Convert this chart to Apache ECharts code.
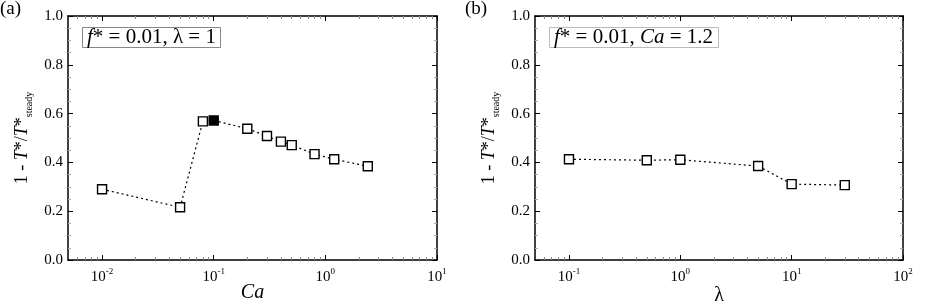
<!DOCTYPE html>
<html>
<head>
<meta charset="utf-8">
<script src="https://cdn.jsdelivr.net/npm/echarts@6/dist/echarts.min.js"></script>
<style>
html,body{margin:0;padding:0;background:#fff;}
#chart{width:926px;height:306px;}
</style>
</head>
<body>
<div id="chart"></div>
<script>
// ---- data ----
const caValues   = [0.01, 0.05, 0.08, 0.1, 0.2, 0.3, 0.4, 0.5, 0.8, 1.2, 2.4];
const caRatio    = [0.290, 0.216, 0.568, 0.572, 0.538, 0.508, 0.485, 0.471, 0.434, 0.413, 0.384];
const caFilled   = 0.1;            // the filled marker in panel (a)
const lambdaValues = [0.1, 0.5, 1, 5, 10, 30];
const lambdaRatio  = [0.413, 0.409, 0.411, 0.385, 0.311, 0.307];
const caDecades     = [-2, -1, 0, 1];   // 10^-2 ... 10^1
const lambdaDecades = [-1, 0, 1, 2];    // 10^-1 ... 10^2
const yTicks = [0.0, 0.2, 0.4, 0.6, 0.8, 1.0];
const caRange     = [-2.305, 1.0];      // log10 extent of panel (a)
const lambdaRange = [-1.305, 2.0];      // log10 extent of panel (b)

// ---- styling ----
const FONT = '"Liberation Serif", "Times New Roman", serif';
const BLACK = '#000';

function minorLogTicks(range) {
  const out = [];
  for (let d = Math.floor(range[0]); d < Math.ceil(range[1]); d++) {
    for (let k = 2; k <= 9; k++) {
      const v = d + Math.log10(k);
      if (v > range[0] + 0.01 && v < range[1] - 0.01) out.push(v);
    }
  }
  return out;
}

const supRich = {
  b: {fontFamily: FONT, fontSize: 15, color: BLACK, lineHeight: 18, verticalAlign: 'bottom'},
  sup: {fontFamily: FONT, fontSize: 9, color: BLACK, lineHeight: 18, verticalAlign: 'top'}
};

function xAxesFor(gridIndex, range, decades, nameRich) {
  const common = {
    type: 'value', gridIndex: gridIndex, min: range[0], max: range[1],
    splitLine: {show: false}, minorTick: {show: false}
  };
  const minors = minorLogTicks(range);
  return [
    Object.assign({}, common, {
      position: 'bottom',
      axisLine: {show: true, onZero: false, lineStyle: {color: BLACK, width: 1.5}},
      axisTick: {show: true, inside: true, length: 5, customValues: decades, lineStyle: {color: BLACK, width: 1}},
      axisLabel: {show: true, margin: 7, customValues: decades,
        formatter: v => '{b|10}{sup|' + Math.round(v) + '}', rich: supRich},
      name: nameRich.text, nameLocation: 'middle', nameGap: nameRich.gap, nameMoveOverlap: false,
      nameTextStyle: {fontFamily: FONT, fontSize: 20, color: BLACK, rich: nameRich.rich}
    }),
    Object.assign({}, common, {
      position: 'bottom',
      axisLine: {show: false, onZero: false},
      axisTick: {show: true, inside: true, length: 3, customValues: minors, lineStyle: {color: '#888', width: 1}},
      axisLabel: {show: false}
    }),
    Object.assign({}, common, {
      position: 'top',
      axisLine: {show: true, onZero: false, lineStyle: {color: BLACK, width: 1.5}},
      axisTick: {show: true, inside: true, length: 5, customValues: decades, lineStyle: {color: BLACK, width: 1}},
      axisLabel: {show: false}
    }),
    Object.assign({}, common, {
      position: 'top',
      axisLine: {show: false, onZero: false},
      axisTick: {show: true, inside: true, length: 3, customValues: minors, lineStyle: {color: '#888', width: 1}},
      axisLabel: {show: false}
    })
  ];
}

const yNameRich = {
  t: {fontFamily: FONT, fontSize: 18, color: BLACK, lineHeight: 24},
  i: {fontFamily: FONT, fontSize: 18, fontStyle: 'italic', color: BLACK, lineHeight: 24},
  sub: {fontFamily: FONT, fontSize: 10, color: BLACK, lineHeight: 24, verticalAlign: 'bottom'}
};

function yAxesFor(gridIndex) {
  const common = {
    type: 'value', gridIndex: gridIndex, min: yTicks[0], max: yTicks[yTicks.length - 1],
    interval: yTicks[1] - yTicks[0], splitLine: {show: false}
  };
  return [
    Object.assign({}, common, {
      position: 'left',
      axisLine: {show: true, onZero: false, lineStyle: {color: BLACK, width: 1.5}},
      axisTick: {show: true, inside: true, length: 5, lineStyle: {color: BLACK, width: 1}},
      minorTick: {show: true, splitNumber: 4, length: 3, lineStyle: {color: '#aaa', width: 1}},
      axisLabel: {show: true, margin: 5, fontFamily: FONT, fontSize: 15, color: BLACK,
        formatter: v => v.toFixed(1)},
      name: '{t|1 - }{i|T}{t|*/}{i|T}{t|*}{sub|steady}',
      nameLocation: 'middle', nameRotate: 90, nameGap: 34, nameMoveOverlap: false,
      nameTextStyle: {fontFamily: FONT, rich: yNameRich}
    }),
    Object.assign({}, common, {
      position: 'right',
      axisLine: {show: true, onZero: false, lineStyle: {color: BLACK, width: 1.5}},
      axisTick: {show: true, inside: true, length: 5, lineStyle: {color: BLACK, width: 1}},
      minorTick: {show: true, splitNumber: 4, length: 3, lineStyle: {color: '#aaa', width: 1}},
      axisLabel: {show: false}
    })
  ];
}

const seriesStyle = {
  type: 'line', symbol: 'rect', symbolSize: 9, showSymbol: true,
  lineStyle: {color: BLACK, width: 1.2, type: [2, 3]},
  itemStyle: {color: '#fff', borderColor: BLACK, borderWidth: 1.4},
  emphasis: {disabled: true}, animation: false, z: 5
};

const caData = caValues.map((c, i) => {
  const pt = {value: [Math.log10(c), caRatio[i]]};
  if (c === caFilled) pt.itemStyle = {color: BLACK, borderColor: BLACK};
  return pt;
});
const lambdaData = lambdaValues.map((l, i) => [Math.log10(l), lambdaRatio[i]]);

const titleText = {fontFamily: FONT, fontSize: 19, fontWeight: 'normal', color: BLACK};
const boxRich = {
  t: {fontFamily: FONT, fontSize: 21, color: BLACK},
  i: {fontFamily: FONT, fontSize: 21, fontStyle: 'italic', color: BLACK}
};

const option = {
  backgroundColor: '#fff',
  animation: false,
  title: [
    {text: '(a)', left: 0, top: 0, padding: 0, textStyle: titleText},
    {text: '(b)', left: 465, top: 0, padding: 0, textStyle: titleText},
    {text: '{i|f}{t|* = 0.01, λ = 1}', left: 82, top: 27, padding: [0, 5, 0, 5],
      borderColor: '#888', borderWidth: 1, textStyle: Object.assign({}, titleText, {rich: boxRich})},
    {text: '{i|f}{t|* = 0.01, }{i|Ca}{t| = 1.2}', left: 549, top: 27, padding: [0, 6, 0, 5],
      borderColor: '#bbb', borderWidth: 1, textStyle: Object.assign({}, titleText, {rich: boxRich})}
  ],
  grid: [
    {left: 68, top: 16, width: 369, height: 244, outerBoundsMode: 'none', containLabel: false},
    {left: 535, top: 16, width: 368, height: 244, outerBoundsMode: 'none', containLabel: false}
  ],
  xAxis: [].concat(
    xAxesFor(0, caRange, caDecades, {text: '{i|Ca}', gap: 23, rich: {i: {fontFamily: FONT, fontSize: 20, fontStyle: 'italic', color: BLACK}}}),
    xAxesFor(1, lambdaRange, lambdaDecades, {text: 'λ', gap: 26, rich: {}})
  ),
  yAxis: [].concat(yAxesFor(0), yAxesFor(1)),
  series: [
    Object.assign({}, seriesStyle, {xAxisIndex: 0, yAxisIndex: 0, data: caData}),
    Object.assign({}, seriesStyle, {xAxisIndex: 4, yAxisIndex: 2, data: lambdaData})
  ]
};

const chart = echarts.init(document.getElementById('chart'), null, {renderer: 'canvas'});
chart.setOption(option);
</script>
</body>
</html>
